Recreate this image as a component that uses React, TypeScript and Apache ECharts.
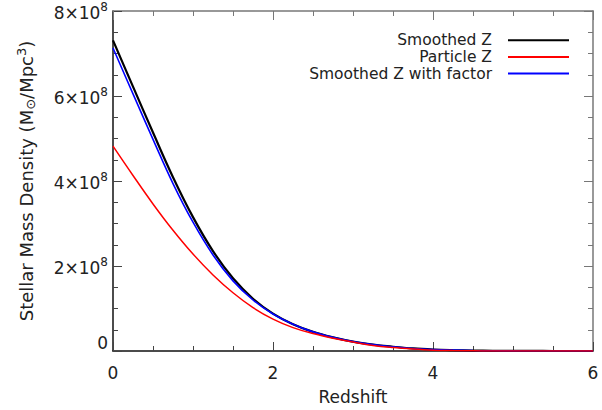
import React, { useEffect, useRef } from "react";
import * as echarts from "echarts";

const redshift = [0, 0.25, 0.5, 0.75, 1.0, 1.25, 1.5, 1.75, 2.0, 2.25, 2.5, 2.75, 3.0, 3.25, 3.5, 3.75, 4.0, 4.25, 4.5, 4.75, 5.0, 5.25, 5.5, 5.75, 6.0];
// values in units of 1e8 M_sun / Mpc^3
const smoothedZ = [7.31, 6.22, 5.14, 4.09, 3.15, 2.35, 1.71, 1.23, 0.88, 0.63, 0.45, 0.32, 0.22, 0.15, 0.1, 0.06, 0.035, 0.02, 0.01, 0.005, 0.0025, 0.001, 0.0005, 0.0002, 0];
const particleZ = [4.82, 4.13, 3.46, 2.84, 2.28, 1.79, 1.37, 1.02, 0.75, 0.55, 0.41, 0.3, 0.21, 0.13, 0.08, 0.045, 0.02, 0.01, 0.004, 0.0015, 0.0005, 0.0002, 0.0001, 0, 0];
const smoothedZFactor = [7.13, 6.05, 4.98, 3.94, 3.03, 2.26, 1.65, 1.2, 0.87, 0.63, 0.45, 0.32, 0.22, 0.15, 0.1, 0.06, 0.035, 0.02, 0.01, 0.005, 0.0025, 0.001, 0.0005, 0.0002, 0];
const seriesNames = ["Smoothed Z", "Particle Z", "Smoothed Z with factor"];
const seriesColors = ["#000000", "#ff0000", "#0000ff"];
const yTickMultipliers = [0, 2, 4, 6, 8];
const xTicks = [0, 2, 4, 6];

const FONT = "DejaVu Sans";
const TXT = "#222";

export default function App() {
  const ref = useRef<HTMLDivElement>(null);
  useEffect(() => {
    if (!ref.current) return;
    const chart = echarts.init(ref.current, null, { renderer: "svg" });
    const toPairs = (arr: number[]) => redshift.map((z, i) => [z, arr[i] * 1e8]);
    const lineSeries = (name: string, data: number[], color: string, width: number, z: number) => ({
      type: "line",
      name,
      data: toPairs(data),
      xAxisIndex: 0,
      yAxisIndex: 0,
      showSymbol: false,
      symbol: "none",
      smooth: 0.4,
      lineStyle: { color, width },
      itemStyle: { color },
      z,
    });
    const yMax = yTickMultipliers[yTickMultipliers.length - 1] * 1e8;
    const yInterval = (yTickMultipliers[1] - yTickMultipliers[0]) * 1e8;
    const xMin = xTicks[0];
    const xMax = xTicks[xTicks.length - 1];
    const xInterval = xTicks[1] - xTicks[0];
    const richLabel = {
      b: { fontSize: 17, fontFamily: FONT, color: TXT, lineHeight: 20, verticalAlign: "bottom" },
      s: { fontSize: 12, fontFamily: FONT, color: TXT, lineHeight: 12, verticalAlign: "top" },
    };
    const mainLine = { show: true, onZero: false, lineStyle: { color: "#111", width: 1.5 } };
    const sideLine = { show: true, onZero: false, lineStyle: { color: "#777", width: 1.5 } };
    const mainTick = { show: true, inside: true, length: 9, lineStyle: { color: "#444", width: 1 } };
    const mainMinor = { show: true, splitNumber: 4, length: 5, lineStyle: { color: "#444", width: 1 } };
    const sideTick = { show: true, inside: true, length: 9, lineStyle: { color: "#777", width: 1 } };
    const sideMinor = { show: true, splitNumber: 4, length: 5, lineStyle: { color: "#777", width: 1 } };
    const option: any = {
      animation: false,
      backgroundColor: "#ffffff",
      grid: { left: 113, right: 9, top: 11, bottom: 59, containLabel: false },
      legend: {
        show: true,
        orient: "vertical",
        right: 28,
        top: 27,
        align: "right",
        itemWidth: 61,
        itemHeight: 2,
        itemGap: 0,
        icon: "rect",
        data: seriesNames,
        textStyle: { fontFamily: FONT, fontSize: 15.5, color: TXT, lineHeight: 16.6, padding: [0, 11, 0, 0] },
      },
      xAxis: [
        {
          type: "value",
          min: xMin,
          max: xMax,
          interval: xInterval,
          position: "bottom",
          name: "Redshift",
          nameLocation: "middle",
          nameGap: 37,
          nameTextStyle: { fontFamily: FONT, fontSize: 17, color: TXT },
          axisLine: mainLine,
          axisTick: mainTick,
          minorTick: mainMinor,
          splitLine: { show: false },
          axisLabel: { margin: 13, fontFamily: FONT, fontSize: 17, color: TXT },
        },
        {
          type: "value",
          min: xMin,
          max: xMax,
          interval: xInterval,
          position: "top",
          axisLine: sideLine,
          axisTick: sideTick,
          minorTick: sideMinor,
          splitLine: { show: false },
          axisLabel: { show: false },
        },
      ],
      yAxis: [
        {
          type: "value",
          min: 0,
          max: yMax,
          interval: yInterval,
          position: "left",
          name: "{t|Stellar Mass Density (M}{sub|⊙}{t|/Mpc}{sup|3}{t|)}",
          nameLocation: "middle",
          nameGap: 76,
          nameRotate: 90,
          nameTextStyle: {
            rich: {
              t: { fontFamily: FONT, fontSize: 18, color: TXT, lineHeight: 22, verticalAlign: "middle" },
              sub: { fontFamily: FONT, fontSize: 13, color: TXT, lineHeight: 12, verticalAlign: "bottom" },
              sup: { fontFamily: FONT, fontSize: 13, color: TXT, lineHeight: 12, verticalAlign: "top" },
            },
          },
          axisLine: mainLine,
          axisTick: mainTick,
          minorTick: mainMinor,
          splitLine: { show: false },
          axisLabel: {
            margin: 5,
            verticalAlignMinLabel: "bottom",
            formatter: (v: number) => (v === 0 ? "{b|0}" : `{b|${Math.round(v / 1e8)}×10}{s|8}`),
            rich: richLabel,
          },
        },
        {
          type: "value",
          min: 0,
          max: yMax,
          interval: yInterval,
          position: "right",
          axisLine: sideLine,
          axisTick: sideTick,
          minorTick: sideMinor,
          splitLine: { show: false },
          axisLabel: { show: false },
        },
      ],
      series: [
        lineSeries(seriesNames[0], smoothedZ, seriesColors[0], 2.2, 2),
        lineSeries(seriesNames[2], smoothedZFactor, seriesColors[2], 1.6, 3),
        lineSeries(seriesNames[1], particleZ, seriesColors[1], 1.5, 4),
      ],
    };
    chart.setOption(option);
    return () => chart.dispose();
  }, []);
  return (
    <div
      ref={ref}
      style={{ position: "fixed", left: 0, top: 0, width: 602, height: 410, background: "#fff" }}
    />
  );
}
